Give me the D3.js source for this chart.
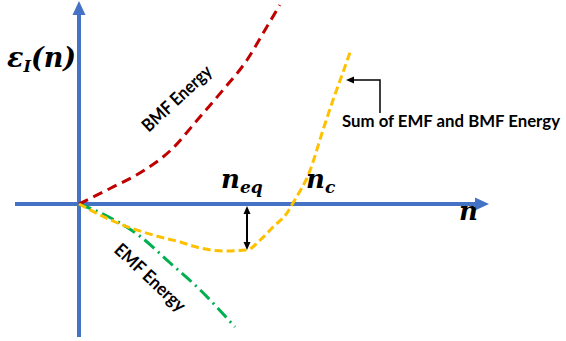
<!DOCTYPE html>
<html>
<head>
<meta charset="utf-8">
<script src="https://cdn.jsdelivr.net/npm/d3@7"></script>
<style>
  body { margin: 0; background: #fff; }
</style>
</head>
<body>
<div id="chart"></div>
<script>
// curves: n along the horizontal, energy up the vertical
var bmfN = [0, 0.8, 1.6, 2.3, 3.0, 3.6, 4.2, 4.65, 5.02];
var bmfE = [0, 0.8, 1.65, 2.7, 4.3, 5.7, 7.2, 8.7, 9.95];

var emfN = [0, 0.65, 1.55, 2.28, 3.03, 3.9];
var emfE = [0, -0.55, -1.65, -2.95, -4.3, -6.15];

var sumN = [0, 0.85, 2.03, 2.53, 3.03, 3.6, 4.2, 4.53, 4.85, 5.2, 5.35, 5.78, 6.1, 6.35, 6.53, 6.78];
var sumE = [0, -0.85, -1.65, -1.9, -2.2, -2.35, -2.3, -1.8, -1.15, -0.45, 0.05, 1.7, 3.7, 5.2, 6.2, 7.6];

var nEq = 4.2;      // minimum of the sum curve
var eMin = -2.3;

var width = 566, height = 341;

var x = d3.scaleLinear().domain([-1.6, 10.25]).range([15, 489]);
var y = d3.scaleLinear().domain([-6.65, 10.1]).range([337, 2]);

var svg = d3.select("#chart").append("svg")
    .attr("width", width)
    .attr("height", height);

var defs = svg.append("defs");
// big blue axis heads
defs.append("marker")
    .attr("id", "axisHead")
    .attr("markerUnits", "userSpaceOnUse")
    .attr("viewBox", "0 0 14 14")
    .attr("refX", 1).attr("refY", 7)
    .attr("markerWidth", 14).attr("markerHeight", 14)
    .attr("orient", "auto")
    .append("path")
    .attr("d", "M0,0.5 L14,7 L0,13.5 Z")
    .attr("fill", "#4472C4");
// small black heads
defs.append("marker")
    .attr("id", "blackHead")
    .attr("markerUnits", "userSpaceOnUse")
    .attr("viewBox", "0 0 8 8")
    .attr("refX", 1).attr("refY", 4)
    .attr("markerWidth", 8).attr("markerHeight", 8)
    .attr("orient", "auto-start-reverse")
    .append("path")
    .attr("d", "M0,0.5 L8,4 L0,7.5 Z")
    .attr("fill", "#000");

// axes
svg.append("line")
    .attr("x1", x.range()[0]).attr("x2", x.range()[1] - 13)
    .attr("y1", y(0)).attr("y2", y(0))
    .attr("stroke", "#4472C4").attr("stroke-width", 4)
    .attr("marker-end", "url(#axisHead)");
svg.append("line")
    .attr("x1", x(0)).attr("x2", x(0))
    .attr("y1", y.range()[0]).attr("y2", y.range()[1] + 12)
    .attr("stroke", "#4472C4").attr("stroke-width", 4)
    .attr("marker-end", "url(#axisHead)");

var line = d3.line()
    .x(function(d) { return x(d[0]); })
    .y(function(d) { return y(d[1]); })
    .curve(d3.curveMonotoneX);

function pairs(a, b) { return a.map(function(v, i) { return [v, b[i]]; }); }

// EMF energy
svg.append("path")
    .datum(pairs(emfN, emfE))
    .attr("d", line)
    .attr("fill", "none")
    .attr("stroke", "#00B050").attr("stroke-width", 3)
    .attr("stroke-dasharray", "13,5,2,5");

// BMF energy
svg.append("path")
    .datum(pairs(bmfN, bmfE))
    .attr("d", line)
    .attr("fill", "none")
    .attr("stroke", "#C00000").attr("stroke-width", 3)
    .attr("stroke-dasharray", "10,6");

// sum
svg.append("path")
    .datum(pairs(sumN, sumE))
    .attr("d", line)
    .attr("fill", "none")
    .attr("stroke", "#FFC000").attr("stroke-width", 3)
    .attr("stroke-dasharray", "8,4");

// double arrow at n_eq
svg.append("line")
    .attr("x1", x(nEq)).attr("x2", x(nEq))
    .attr("y1", y(0) + 9).attr("y2", y(eMin) - 7)
    .attr("stroke", "#000").attr("stroke-width", 2)
    .attr("marker-start", "url(#blackHead)")
    .attr("marker-end", "url(#blackHead)");

// callout arrow for the sum label
svg.append("polyline")
    .attr("points", [[380, 113], [380, 80], [353, 80]].join(" "))
    .attr("fill", "none")
    .attr("stroke", "#000").attr("stroke-width", 1.5)
    .attr("marker-end", "url(#blackHead)");

var sans = "Lato, 'Open Sans', sans-serif";
var math = "'DejaVu Serif', serif";

svg.append("text")
    .attr("x", 342).attr("y", 127)
    .attr("font-family", sans).attr("font-weight", 700)
    .attr("font-size", 17)
    .attr("textLength", 218).attr("lengthAdjust", "spacingAndGlyphs")
    .text("Sum of EMF and BMF Energy");

svg.append("text")
    .attr("transform", "translate(181,103) rotate(-43)")
    .attr("text-anchor", "middle")
    .attr("font-family", sans).attr("font-weight", 700)
    .attr("font-size", 18)
    .attr("textLength", 88).attr("lengthAdjust", "spacingAndGlyphs")
    .text("BMF Energy");

svg.append("text")
    .attr("transform", "translate(146,282) rotate(43)")
    .attr("text-anchor", "middle")
    .attr("font-family", sans).attr("font-weight", 700)
    .attr("font-size", 18)
    .attr("textLength", 90).attr("lengthAdjust", "spacingAndGlyphs")
    .text("EMF Energy");

// math labels
var eps = svg.append("text")
    .attr("x", 7).attr("y", 67)
    .attr("font-family", math).attr("font-weight", "bold").attr("font-style", "italic")
    .attr("font-size", 27);
eps.append("tspan").text("ε");
eps.append("tspan").attr("font-size", 16).attr("dy", 5).text("I");
eps.append("tspan").attr("dy", -5).text("(n)");

var neq = svg.append("text")
    .attr("x", 221).attr("y", 188)
    .attr("font-family", math).attr("font-weight", "bold").attr("font-style", "italic")
    .attr("font-size", 26);
neq.append("tspan").text("n");
neq.append("tspan").attr("font-size", 17).attr("dy", 5).text("eq");

var nc = svg.append("text")
    .attr("x", 306).attr("y", 188)
    .attr("font-family", math).attr("font-weight", "bold").attr("font-style", "italic")
    .attr("font-size", 26);
nc.append("tspan").text("n");
nc.append("tspan").attr("font-size", 17).attr("dy", 5).text("c");

svg.append("text")
    .attr("x", 459).attr("y", 220)
    .attr("font-family", math).attr("font-weight", "bold").attr("font-style", "italic")
    .attr("font-size", 26)
    .text("n");
</script>
</body>
</html>
